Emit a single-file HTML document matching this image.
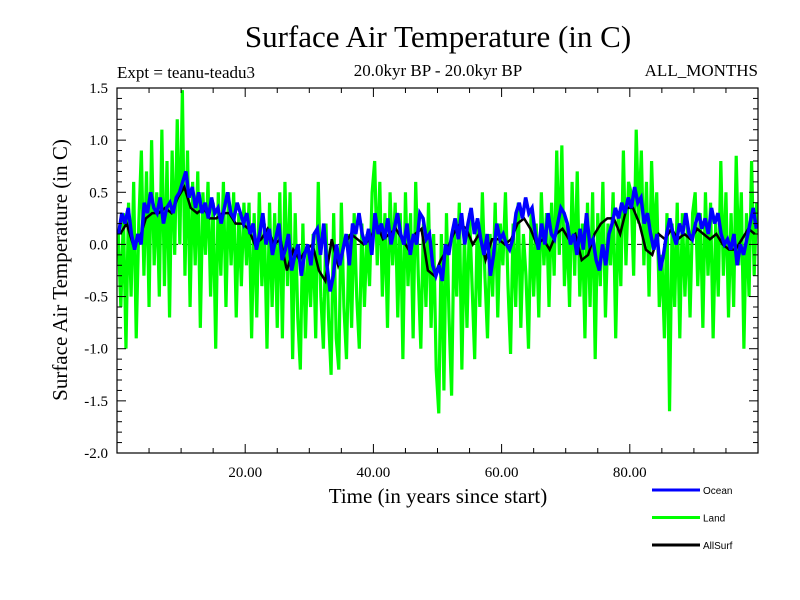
<!DOCTYPE html>
<html><head><meta charset="utf-8"><style>
body{margin:0;background:#fff}
svg{display:block}
text{font-family:"Liberation Serif",serif;fill:#000}
</style></head><body>
<svg id="chart" width="800" height="600" viewBox="0 0 800 600">
<text x="438" y="47" font-size="31" text-anchor="middle">Surface Air Temperature (in C)</text>
<text x="117" y="78" font-size="17">Expt = teanu-teadu3</text>
<text x="438" y="76" font-size="17" text-anchor="middle">20.0kyr BP - 20.0kyr BP</text>
<text x="758" y="76" font-size="17" text-anchor="end">ALL_MONTHS</text>
<text x="438" y="503" font-size="21" text-anchor="middle">Time (in years since start)</text>
<text transform="translate(67,270) rotate(-90)" font-size="21" text-anchor="middle">Surface Air Temperature (in C)</text>
<g id="plot"></g>
<g id="axes"></g>
<g id="legend"></g>
</svg>
<script>
const xTicks=[20,40,60,80];
const yTicks=[1.5,1.0,0.5,0.0,-0.5,-1.0,-1.5,-2.0];
const seriesNames=["Ocean","Land","AllSurf"];
const land=[0.1,-0.6,0.3,-1.0,0.4,-0.5,0.6,-0.9,0.2,0.9,-0.3,0.7,-0.6,1.0,-0.2,0.5,-0.5,1.1,-0.4,0.8,-0.7,0.9,-0.1,1.2,0.0,
1.48,-0.3,0.9,-0.6,0.6,-0.2,0.7,-0.8,0.5,-0.1,0.6,-0.5,0.4,-1.0,0.5,-0.3,0.6,-0.6,0.5,-0.2,0.5,-0.7,0.3,-0.4,0.4,
-0.2,0.4,-0.9,0.3,-0.7,0.5,-0.4,0.2,-1.0,0.4,-0.6,0.3,-0.8,0.5,-0.9,0.6,-0.4,0.5,-1.1,0.3,-0.7,-1.2,0.2,-0.9,0.0,
-0.6,0.1,-0.9,0.6,-0.5,-1.0,0.2,-0.7,-1.25,0.3,-0.9,-1.2,0.4,-0.6,-1.1,0.1,-0.8,0.3,-0.5,-1.0,0.2,-0.6,0.1,-0.4,0.5,
0.8,-0.2,0.6,-0.5,0.3,-0.8,0.5,-0.2,0.4,-0.7,0.3,-1.1,0.5,-0.4,0.3,-0.9,0.6,-0.3,-1.0,0.2,-0.6,0.4,-0.8,0.1,-1.2,
-1.62,0.1,-1.4,0.3,-0.7,-1.45,0.2,-0.5,0.4,-1.2,0.1,-0.8,0.3,-0.4,-1.1,0.2,-0.6,0.5,-0.3,-0.9,0.1,-0.5,0.4,-0.7,0.2,
-0.2,0.5,-0.4,-1.05,0.2,-0.6,0.4,-0.8,0.1,-0.3,-1.0,0.3,-0.5,0.2,-0.7,0.5,-0.2,0.3,-0.6,0.4,-0.3,0.9,-0.1,0.95,-0.4,
0.2,-0.6,0.6,-0.3,0.7,-0.5,0.2,-0.9,0.4,-0.6,0.5,-1.1,0.3,-0.4,0.6,-0.7,0.2,-0.2,0.5,-0.9,0.3,-0.4,0.9,-0.2,0.6,
0.5,-0.3,1.1,0.2,0.9,-0.2,0.6,-0.5,0.8,0.0,0.5,-0.6,-0.1,-0.9,0.3,-1.6,0.2,-0.6,0.4,-0.9,0.3,-0.5,0.2,-0.7,0.3,
0.5,-0.4,0.3,-0.8,0.5,-0.3,0.4,-0.9,0.2,-0.5,0.8,-0.3,0.5,-0.7,0.3,-0.6,0.85,-0.2,0.5,-1.0,0.3,-0.5,0.8,-0.3,0.4];
const ocean=[0.1,0.3,0.2,0.35,0.1,-0.05,0.1,0.0,0.4,0.3,0.5,0.35,0.3,0.45,0.2,0.35,0.4,0.3,0.45,0.5,
0.6,0.7,0.45,0.55,0.35,0.5,0.3,0.4,0.25,0.45,0.3,0.35,0.2,0.35,0.5,0.3,0.25,0.4,0.3,0.2,
0.3,0.1,0.2,-0.05,0.1,0.3,0.0,0.15,-0.1,0.05,0.2,-0.15,-0.05,0.1,-0.25,-0.1,0.0,-0.3,-0.1,0.0,
-0.2,0.1,0.15,-0.1,0.2,-0.2,-0.45,-0.3,0.0,-0.2,-0.05,0.1,-0.2,0.2,0.1,0.3,0.1,0.0,0.15,-0.1,
0.3,0.1,0.2,0.05,0.25,0.0,0.15,0.3,0.1,0.0,0.2,-0.1,0.1,0.0,0.3,0.25,0.05,0.1,-0.2,-0.3,
-0.2,-0.35,0.0,-0.1,0.1,0.25,0.05,0.3,0.0,0.2,0.35,0.1,0.25,0.05,-0.1,0.1,-0.3,-0.1,0.2,0.05,
0.1,0.0,-0.05,0.05,0.3,0.4,0.25,0.45,0.3,0.35,0.1,-0.05,0.2,0.0,0.3,0.1,0.05,0.2,0.35,0.3,
0.2,0.0,0.1,-0.1,0.15,-0.05,0.3,0.0,0.05,-0.15,-0.25,0.0,-0.2,0.1,0.2,0.35,0.25,0.4,0.3,0.45,
0.35,0.55,0.4,0.45,0.2,0.3,0.1,-0.05,0.1,-0.25,-0.1,0.1,0.25,0.1,0.0,0.2,0.1,0.3,0.1,0.05,
0.2,0.3,0.15,0.25,0.1,0.35,0.2,0.3,0.1,0.0,0.05,-0.05,0.1,-0.2,0.0,-0.1,0.05,0.2,0.35,0.15];
const allSurf=[0.1,0.2,0.0,0.05,0.25,0.3,0.3,0.35,0.3,0.45,0.55,0.35,0.3,0.35,0.25,0.25,0.3,0.3,0.2,0.2,
0.15,0.0,0.05,0.15,0.0,0.05,-0.25,-0.05,-0.15,-0.05,0.0,-0.25,-0.35,0.05,-0.2,0.0,0.1,0.05,0.0,0.05,
0.2,0.05,0.1,0.15,0.05,-0.05,0.1,0.15,-0.25,-0.3,-0.15,-0.05,0.1,0.2,0.15,0.0,0.1,-0.15,0.05,0.05,
0.0,0.05,0.2,0.25,0.15,0.0,0.05,-0.05,0.1,0.15,0.05,0.1,-0.15,-0.1,0.1,0.2,0.25,0.25,0.1,0.35,
0.35,0.2,-0.05,-0.1,0.1,0.05,0.15,0.05,0.1,0.05,0.15,0.1,0.05,0.1,0.0,-0.05,-0.05,0.05,0.15,0.1];
const NS="http://www.w3.org/2000/svg";
const L=117,R=758,T=88,B=453,X0=0,X1=100,Y0=-2,Y1=1.5;
function sx(v){return L+(v-X0)/(X1-X0)*(R-L);}
function sy(v){return B-(v-Y0)/(Y1-Y0)*(B-T);}
function mk(tag,attrs,parent){const e=document.createElementNS(NS,tag);for(const k in attrs)e.setAttribute(k,attrs[k]);parent.appendChild(e);return e;}
const plot=document.getElementById('plot'),axes=document.getElementById('axes'),leg=document.getElementById('legend');
function pathFor(arr){const dx=(X1-X0)/arr.length;return arr.map((v,i)=>(i?'L':'M')+sx(X0+dx*(i+0.5)).toFixed(2)+' '+sy(v).toFixed(2)).join(' ');}
const z=mk('line',{x1:L,x2:R,y1:sy(0),y2:sy(0),stroke:'#000','stroke-width':1,'stroke-dasharray':'9,4'},plot);


const pl=mk('path',{d:pathFor(land),fill:'none',stroke:'#00ff00','stroke-width':3.2},plot);


const pa=mk('path',{d:pathFor(allSurf),fill:'none',stroke:'#000','stroke-width':2.5},plot);


const po=mk('path',{d:pathFor(ocean),fill:'none',stroke:'#0000ff','stroke-width':3.5},plot);


const fr=mk('rect',{x:L,y:T,width:R-L,height:B-T,fill:'none',stroke:'#000','stroke-width':1.2},axes);


for(let v=-2;v<=1.5001;v+=0.1){const y=sy(v);const maj=Math.abs(v*2-Math.round(v*2))<1e-6;const len=maj?9:5;
 mk('line',{x1:L,x2:L+len,y1:y,y2:y,stroke:'#000'},axes);mk('line',{x1:R,x2:R-len,y1:y,y2:y,stroke:'#000'},axes);}
yTicks.forEach(v=>{const t=mk('text',{x:108,y:sy(v)+5,'font-size':15,'text-anchor':'end'},axes);t.textContent=v.toFixed(1);

});
for(let v=5;v<100;v+=5){const x=sx(v);const maj=v%20===0;const len=maj?9:5;
 mk('line',{x1:x,x2:x,y1:B,y2:B-len,stroke:'#000'},axes);mk('line',{x1:x,x2:x,y1:T,y2:T+len,stroke:'#000'},axes);}
xTicks.forEach(v=>{const t=mk('text',{x:sx(v),y:477,'font-size':15,'text-anchor':'middle'},axes);t.textContent=v.toFixed(2);

});
const legColors=['#0000ff','#00ff00','#000'];
seriesNames.forEach((n,i)=>{const y=490+i*27.5;
 const g=mk('g',{},leg);
 
 
 mk('line',{x1:652,x2:700,y1:y,y2:y,stroke:legColors[i],'stroke-width':3},g);
 const t=mk('text',{x:703,y:y+4,'font-size':10,style:'font-family:"Liberation Sans",sans-serif'},g);t.textContent=n;});
</script>
</body></html>
